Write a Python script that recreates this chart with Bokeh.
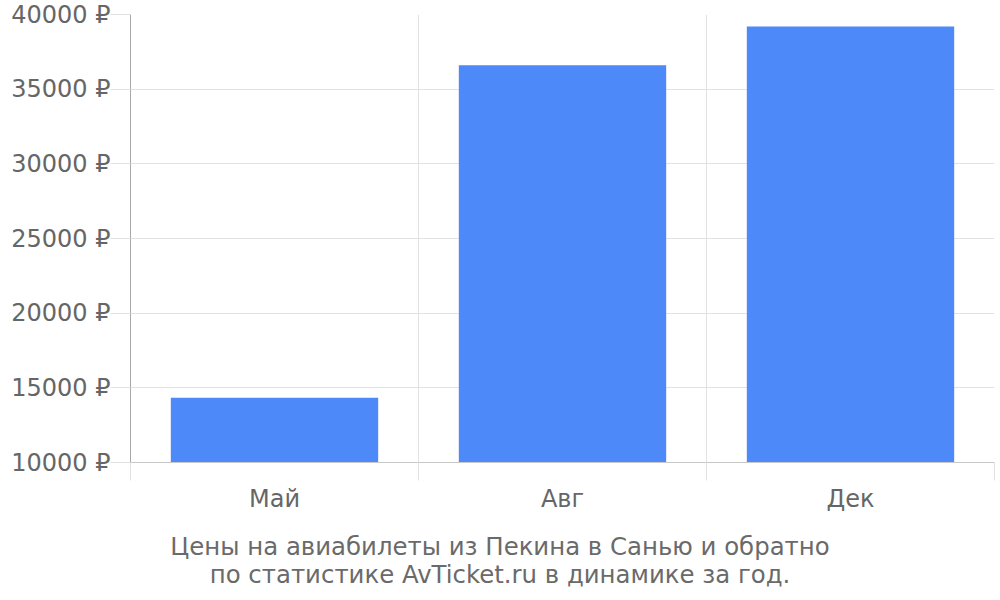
from bokeh.plotting import figure
from bokeh.layouts import column
from bokeh.models import (ColumnDataSource, FactorRange, Range1d, LinearAxis,
                          FixedTicker, PrintfTickFormatter, Div)
from bokeh.embed import file_html
from bokeh.resources import INLINE

# data
months = ["Май", "Авг", "Дек"]
prices = [14330, 36600, 39200]
y_ticks = [10000, 15000, 20000, 25000, 30000, 35000, 40000]
caption = ["Цены на авиабилеты из Пекина в Санью и обратно",
           "по статистике AvTicket.ru в динамике за год."]

FONT = "DejaVu Sans"
TEXT = "#666666"
GRID = "#e2e2e2"

source = ColumnDataSource(dict(month=months, price=prices))

p = figure(x_range=FactorRange(*months), y_range=Range1d(y_ticks[0], y_ticks[-1]),
           width=1000, height=520, output_backend="svg", toolbar_location=None,
           x_axis_location=None, y_axis_location="left",
           min_border_left=130, min_border_right=6, min_border_top=14, min_border_bottom=58)
p.outline_line_color = None

p.vbar(x="month", top="price", bottom=y_ticks[0], width=0.72, source=source,
       fill_color="#4d89f9", line_color=None)

# x axis: labels in the middle of each slot, short ticks on slot borders
# (synthetic category coordinates: slot i spans i .. i+1)
centers = [i + 0.5 for i in range(len(months))]
borders = list(range(len(months) + 1))
xaxis = LinearAxis(ticker=FixedTicker(ticks=centers, minor_ticks=borders),
                   major_label_overrides={c: m for c, m in zip(centers, months)})
xaxis.axis_line_color = "#c8c8c8"
xaxis.major_tick_line_color = None
xaxis.major_tick_out = 0
xaxis.major_tick_in = 0
xaxis.minor_tick_line_color = GRID
xaxis.minor_tick_out = 18
xaxis.minor_tick_in = 0
xaxis.major_label_standoff = 4
xaxis.major_label_text_font = FONT
xaxis.major_label_text_font_size = "24px"
xaxis.major_label_text_color = TEXT
p.add_layout(xaxis, "below")
p.xgrid.ticker = FixedTicker(ticks=borders)
p.xgrid.grid_line_color = GRID

# y axis
p.yaxis.ticker = FixedTicker(ticks=y_ticks)
p.yaxis.formatter = PrintfTickFormatter(format="%d ₽")
p.yaxis.axis_line_color = "#a8a8a8"
p.yaxis.major_tick_line_color = GRID
p.yaxis.major_tick_out = 20
p.yaxis.major_tick_in = 0
p.yaxis.minor_tick_line_color = None
p.yaxis.major_label_standoff = 0
p.yaxis.major_label_text_font = FONT
p.yaxis.major_label_text_font_size = "24px"
p.yaxis.major_label_text_color = TEXT
p.ygrid.ticker = FixedTicker(ticks=y_ticks)
p.ygrid.grid_line_color = GRID

# caption under the chart
note = Div(text="<br>".join(caption), width=1000, height=80, margin=0,
           styles={"text-align": "center", "font-family": FONT, "font-size": "24.4px",
                   "color": "#6a6a6a", "line-height": "28px", "padding-top": "13px"})

layout = column(p, note, spacing=0)
open("out.html", "w").write(file_html(layout, INLINE))
